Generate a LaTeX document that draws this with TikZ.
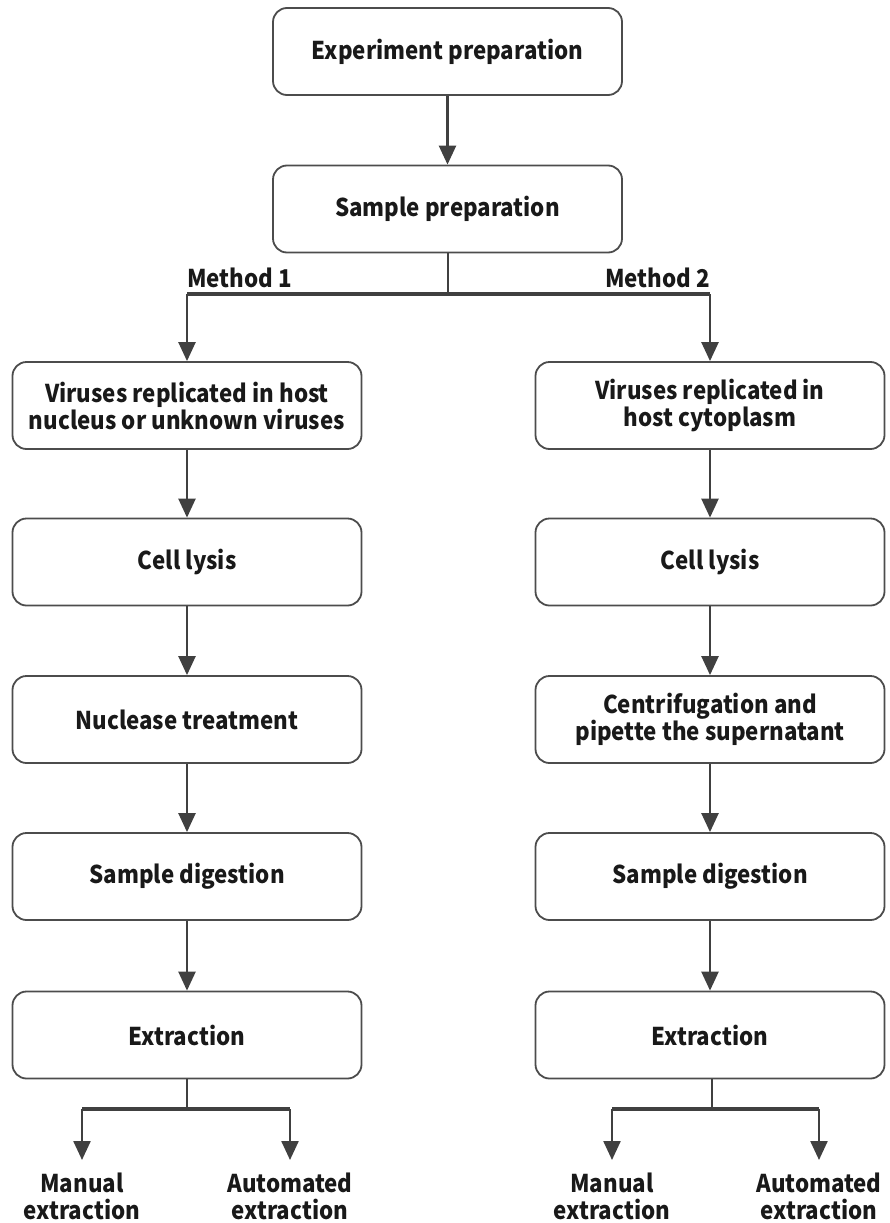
\documentclass[tikz,border=0pt]{standalone}
\usepackage{fontspec}
\setmainfont{Noto Sans CJK SC}[FakeStretch=0.91]
\usetikzlibrary{arrows.meta}

\begin{document}
\begin{tikzpicture}[x=1pt,y=-1pt,
  box/.style={draw=black!70,line width=1.8pt,rounded corners=14pt,
    minimum width=349pt,minimum height=87pt,align=center,
    font=\fontsize{24.5}{27}\selectfont\bfseries,text=black!90},
  meth/.style={inner sep=0pt,font=\fontsize{24.5}{27}\selectfont\bfseries,text=black!90},
  lab/.style={align=center,inner xsep=0pt,inner ysep=13pt,anchor=north,
    font=\fontsize{24.5}{27}\selectfont\bfseries,text=black!90},
  link/.style={draw=black!75,line width=2.4pt},
  fork/.style={draw=black!75,line width=3.6pt},
  arr/.style={link,-{Triangle[length=19pt,width=17pt]}}]
\useasboundingbox (0,0) rectangle (889,1223);

\node[box] (prep) at (447.5,51.5) {Experiment preparation};
\node[box] (samp) at (447.5,209) {Sample preparation};

% method 1
\node[box] (vir1) at (187,405.5) {Viruses replicated in host\\nucleus or unknown viruses};
\node[box] (lys1) at (187,562) {Cell lysis};
\node[box] (nuc1) at (187,719.5) {Nuclease treatment};
\node[box] (dig1) at (187,876.5) {Sample digestion};
\node[box] (ext1) at (187,1035) {Extraction};

% method 2
\node[box] (vir2) at (710,405.5) {Viruses replicated in\\host cytoplasm};
\node[box] (lys2) at (710,562) {Cell lysis};
\node[box] (cen2) at (710,719.5) {Centrifugation and\\pipette the supernatant};
\node[box] (dig2) at (710,876.5) {Sample digestion};
\node[box] (ext2) at (710,1035) {Extraction};

\node[meth,anchor=base west] (m1) at (187,287) {Method 1};
\node[meth,anchor=base east] (m2) at (710,287) {Method 2};

\node[lab] (man1) at (82,1160) {Manual\\extraction};
\node[lab] (aut1) at (290,1160) {Automated\\extraction};
\node[lab] (man2) at (612,1160) {Manual\\extraction};
\node[lab] (aut2) at (819,1160) {Automated\\extraction};

\coordinate (s0) at (448,294);
\coordinate (b1) at (187,1109);
\coordinate (b2) at (712,1109);

\draw[arr] (prep) -- (samp);
\draw[link] (samp.south -| s0) -- (s0);
\draw[fork] (vir1 |- s0) -- (vir2 |- s0);
\draw[arr] (vir1 |- s0) -- (vir1.north);
\draw[arr] (vir2 |- s0) -- (vir2.north);

\draw[arr] (vir1) -- (lys1);
\draw[arr] (lys1) -- (nuc1);
\draw[arr] (nuc1) -- (dig1);
\draw[arr] (dig1) -- (ext1);

\draw[arr] (vir2) -- (lys2);
\draw[arr] (lys2) -- (cen2);
\draw[arr] (cen2) -- (dig2);
\draw[arr] (dig2) -- (ext2);

\draw[link] (ext1.south) -- (b1);
\draw[fork] (man1 |- b1) -- (aut1 |- b1);
\draw[arr] (man1 |- b1) -- (man1.north);
\draw[arr] (aut1 |- b1) -- (aut1.north);

\draw[link] (ext2.south -| b2) -- (b2);
\draw[fork] (man2 |- b2) -- (aut2 |- b2);
\draw[arr] (man2 |- b2) -- (man2.north);
\draw[arr] (aut2 |- b2) -- (aut2.north);

\end{tikzpicture}
\end{document}
